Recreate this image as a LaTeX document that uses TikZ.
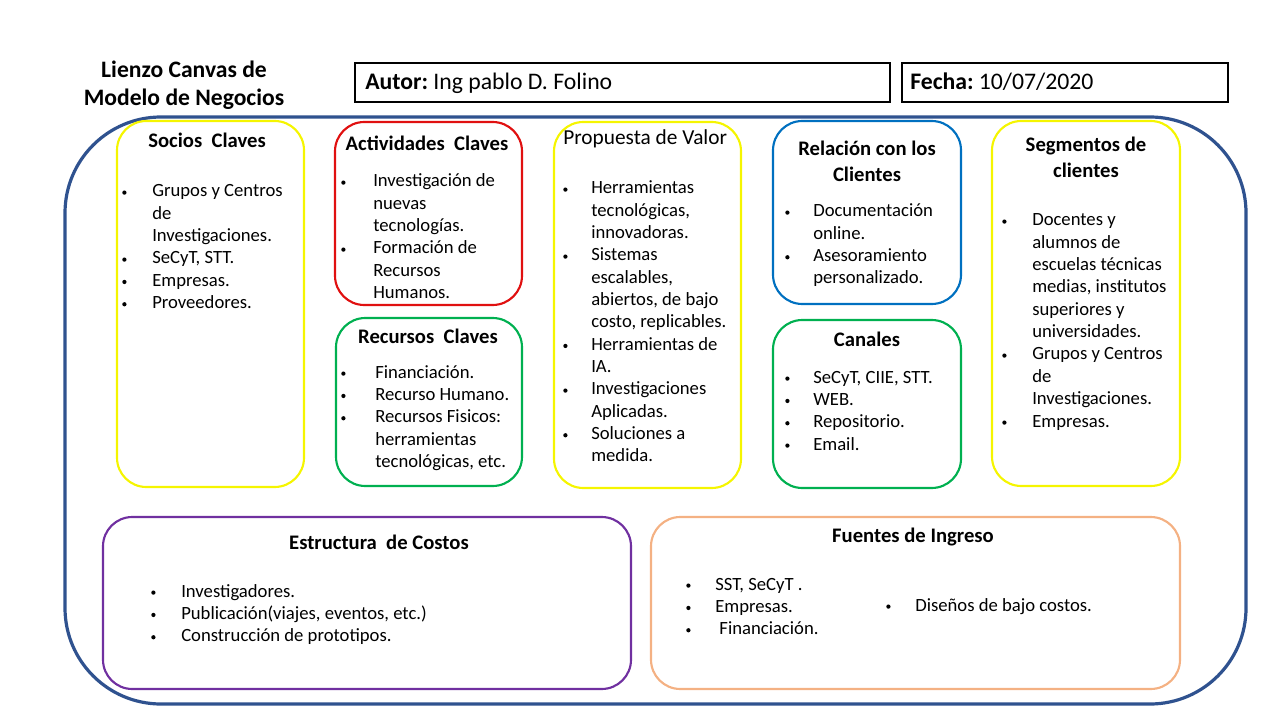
\documentclass[tikz,border=0pt]{standalone}
\usepackage{fontspec}
\setmainfont{Carlito}
\usetikzlibrary{fit}
\newdimen\upx \upx=0.75pt
\definecolor{outerblue}{HTML}{2F528F}
\definecolor{cyellow}{HTML}{F5F500}
\definecolor{cred}{HTML}{E01010}
\definecolor{cgreen}{HTML}{00B050}
\definecolor{cblue}{HTML}{0070C0}
\definecolor{cpurple}{HTML}{7030A0}
\definecolor{corange}{HTML}{F4B183}
\newcommand{\bul}{\raisebox{1.7pt}{\tikz\fill (0,0) circle (1.6pt);}}
\newcommand{\blst}[2]{\begin{tabular}[t]{@{}p{#1\upx}@{}l@{}}#2\end{tabular}}
\newcommand{\ttl}[1]{\begin{tabular}[t]{@{}c@{}}#1\end{tabular}}
\tikzset{
  card/.style={draw=#1, line width=1.6pt, rounded corners=22pt, inner sep=0pt},
  hbox/.style={draw=black, line width=2.2pt, inner sep=0pt},
  body/.style={anchor=base west, inner sep=0pt, font=\fontsize{14}{16.75}\selectfont},
  title/.style={anchor=base, inner sep=0pt, font=\fontsize{15.5}{19.5}\selectfont\bfseries},
}
\begin{document}
\begin{tikzpicture}[x=0.75pt, y=-0.75pt]
\useasboundingbox (0,0) rectangle (1280,720);
% outer frame
\node[draw=outerblue, line width=2.4pt, rounded corners=72pt, inner sep=0pt, fit={(65,117) (1246,704)}] (frame) {};
% header
\node[anchor=base, inner sep=0pt, font=\fontsize{17.7}{21}\selectfont\bfseries] (htitle) at (184,78) {\ttl{Lienzo Canvas de\\Modelo de Negocios}};
\node[hbox, fit={(355,63) (890,102)}] (autorbox) {};
\node[anchor=base west, inner sep=0pt, font=\fontsize{17.8}{20}\selectfont] (autor) at (365,90) {\textbf{Autor:}\hspace{0.22em}Ing pablo D. Folino};
\node[hbox, fit={(902,63) (1228,102)}] (fechabox) {};
\node[anchor=base west, inner sep=0pt, font=\fontsize{17.8}{20}\selectfont] (fecha) at (910,90) {\textbf{Fecha:}\hspace{0.22em}10/07/2020};
% cards
\node[card=cyellow, fit={(117,121) (304,487)}] (socios) {};
\node[card=cred, fit={(335,122) (522,305)}] (activ) {};
\node[card=cgreen, fit={(336,318) (522,486)}] (recur) {};
\node[card=cyellow, fit={(554,122) (741,488)}] (prop) {};
\node[card=cblue, fit={(773,121) (961,304)}] (relac) {};
\node[card=cgreen, fit={(773,320) (961,488)}] (canal) {};
\node[card=cyellow, fit={(992,121) (1180,486)}] (segm) {};
\node[card=cpurple, fit={(103,517) (631,689)}] (costos) {};
\node[card=corange, fit={(651,517) (1180,689)}] (fuentes) {};
% titles
\node[title] (tsocios) at (207,148) {Socios\ \ Claves};
\node[title] (tactiv) at (427,151) {Actividades\ \ Claves};
\node[title] (trecur) at (428,343) {Recursos\ \ Claves};
\node[anchor=base west, inner sep=0pt, font=\fontsize{16}{18}\selectfont] (tprop) at (563,145) {Propuesta de Valor};
\node[title] (trelac) at (867,156) {\ttl{Relación con los\\Clientes}};
\node[title] (tcanal) at (867,346) {Canales};
\node[title] (tsegm) at (1086,152) {\ttl{Segmentos de\\clientes}};
\node[title] (tcostos) at (379,549) {Estructura\ \ de Costos};
\node[title] (tfuentes) at (913,542) {Fuentes de Ingreso};
% lists
\node[body] (lsocios) at (122,197) {\blst{30}{\bul & Grupos y Centros\\ & de\\ & Investigaciones.\\\bul & SeCyT, STT.\\\bul & Empresas.\\\bul & Proveedores.}};
\node[body] (lactiv) at (341,187) {\blst{32}{\bul & Investigación de\\ & nuevas\\ & tecnologías.\\\bul & Formación de\\ & Recursos\\ & Humanos.}};
\node[body] (lrecur) at (341,378) {\blst{34}{\bul & Financiación.\\\bul & Recurso Humano.\\\bul & Recursos Fisicos:\\ & herramientas\\ & tecnológicas, etc.}};
\node[body] (lprop) at (563,194) {\blst{28}{\bul & Herramientas\\ & tecnológicas,\\ & innovadoras.\\\bul & Sistemas\\ & escalables,\\ & abiertos, de bajo\\ & costo, replicables.\\\bul & Herramientas de\\ & IA.\\\bul & Investigaciones\\ & Aplicadas.\\\bul & Soluciones a\\ & medida.}};
\node[body] (lrelac) at (785,217) {\blst{28}{\bul & Documentación\\ & online.\\\bul & Asesoramiento\\ & personalizado.}};
\node[body] (lcanal) at (785,383) {\blst{28}{\bul & SeCyT, CIIE, STT.\\\bul & WEB.\\\bul & Repositorio.\\\bul & Email.}};
\node[body] (lsegm) at (1002,226) {\blst{30}{\bul & Docentes y\\ & alumnos de\\ & escuelas técnicas\\ & medias, institutos\\ & superiores y\\ & universidades.\\\bul & Grupos y Centros\\ & de\\ & Investigaciones.\\\bul & Empresas.}};
\node[body] (lcostos) at (151,597) {\blst{30}{\bul & Investigadores.\\\bul & Publicación(viajes, eventos, etc.)\\\bul & Construcción de prototipos.}};
\node[body] (lfuentes) at (686,590) {\blst{29}{\bul & SST, SeCyT .\\\bul & Empresas.\\\bul & \ Financiación.}};
\node[body] (lfuentes2) at (886,611) {\blst{29}{\bul & Diseños de bajo costos.}};
\end{tikzpicture}
\end{document}
